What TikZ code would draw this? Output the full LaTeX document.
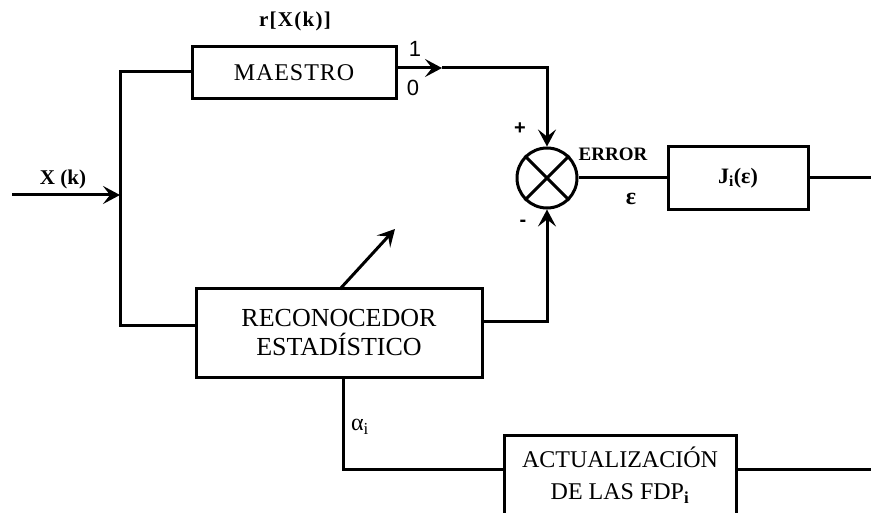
\documentclass[tikz,border=0pt]{standalone}
\usepackage{fontspec}
\setmainfont{Liberation Serif}
\newfontfamily\sansf{Liberation Sans}
\usetikzlibrary{arrows.meta,calc}
\begin{document}
\begin{tikzpicture}[x=1pt,y=-1pt,
  wire/.style={line width=3pt,line join=miter},
  arr/.style={wire,-{Stealth[length=17pt,width=18pt,inset=7pt]}},
  blk/.style={draw,line width=3pt,inner sep=0pt,align=center,anchor=center},
  lbl/.style={inner sep=0pt,anchor=center}]
\useasboundingbox (0,0) rectangle (871,513);
% blocks
\node[blk,minimum width=204pt,minimum height=52pt,font=\fontsize{24}{26}\selectfont\addfontfeature{LetterSpace=4}] (maestro) at (294,73)
  {MAESTRO};
\node[blk,minimum width=286pt,minimum height=88pt,font=\fontsize{26}{29}\selectfont] (reco) at (339,333)
  {RECONOCEDOR\\ESTADÍSTICO};
\node[blk,minimum width=140pt,minimum height=63pt,font=\fontsize{22}{24}\selectfont\bfseries] (J) at (738,178)
  {J\textsubscript{i}(ε)};
\node[blk,minimum width=232pt,minimum height=80pt,font=\fontsize{24}{32}\selectfont] (act) at (620,475)
  {ACTUALIZACIÓN\\DE LAS FDP\textsubscript{\bfseries i}};
\node[draw,circle,line width=3pt,minimum size=60pt,inner sep=0pt] (sum) at (547,178) {};
\draw[line width=3pt] (sum.north west) -- (sum.south east) (sum.north east) -- (sum.south west);
% coordinates
\coordinate (in) at (12,195);
\coordinate (split) at (120,195);
\coordinate (tl) at (120,72);
\coordinate (bl) at (120,326);
\coordinate (mid) at (442,68);
\coordinate (tr) at (547,68);
\coordinate (br) at (547,322);
\coordinate (d1) at (340,289);
\coordinate (d2) at (395,229);
\coordinate (ab) at (343,469);
\coordinate (jout) at (871,178);
\coordinate (aout) at (871,469);
% connectors
\draw[arr] (in) -- (split);
\draw[wire] (tl -| maestro.west) -- (tl) -- (bl) -- (bl -| reco.west);
\draw[arr] (mid -| maestro.east) -- (mid);
\draw[arr] (mid) -- (tr) -- (sum.north);
\draw[arr] (br -| reco.east) -- (br) -- (sum.south);
\draw[wire] (sum.east) -- (J.west);
\draw[wire] (J.east) -- (jout);
\draw[arr] (d1) -- (d2);
\draw[wire] (reco.south -| ab) -- (ab) -- (ab -| act.west);
\draw[wire] (act.east |- ab) -- (aout);
% labels
\node[lbl] at (295,21) {\fontsize{21}{24}\selectfont\bfseries\addfontfeature{LetterSpace=6}r[X(k)]};
\node[lbl] at (63,179) {\fontsize{21}{24}\selectfont\bfseries X (k)};
\node[lbl] at (415,49) {\fontsize{22}{24}\selectfont\sansf 1};
\node[lbl] at (413,88) {\fontsize{22}{24}\selectfont\sansf 0};
\node[lbl] at (520,129) {\fontsize{20}{24}\selectfont\sansf\bfseries +};
\node[lbl] at (523,223) {\fontsize{20}{24}\selectfont\sansf\bfseries -};
\node[lbl] at (613,154) {\fontsize{19}{24}\selectfont\bfseries ERROR};
\node[lbl] at (631,199) {\fontsize{24}{24}\selectfont\bfseries ε};
\node[lbl] at (360,427) {\fontsize{24}{24}\selectfont α\textsubscript{i}};
\end{tikzpicture}
\end{document}
